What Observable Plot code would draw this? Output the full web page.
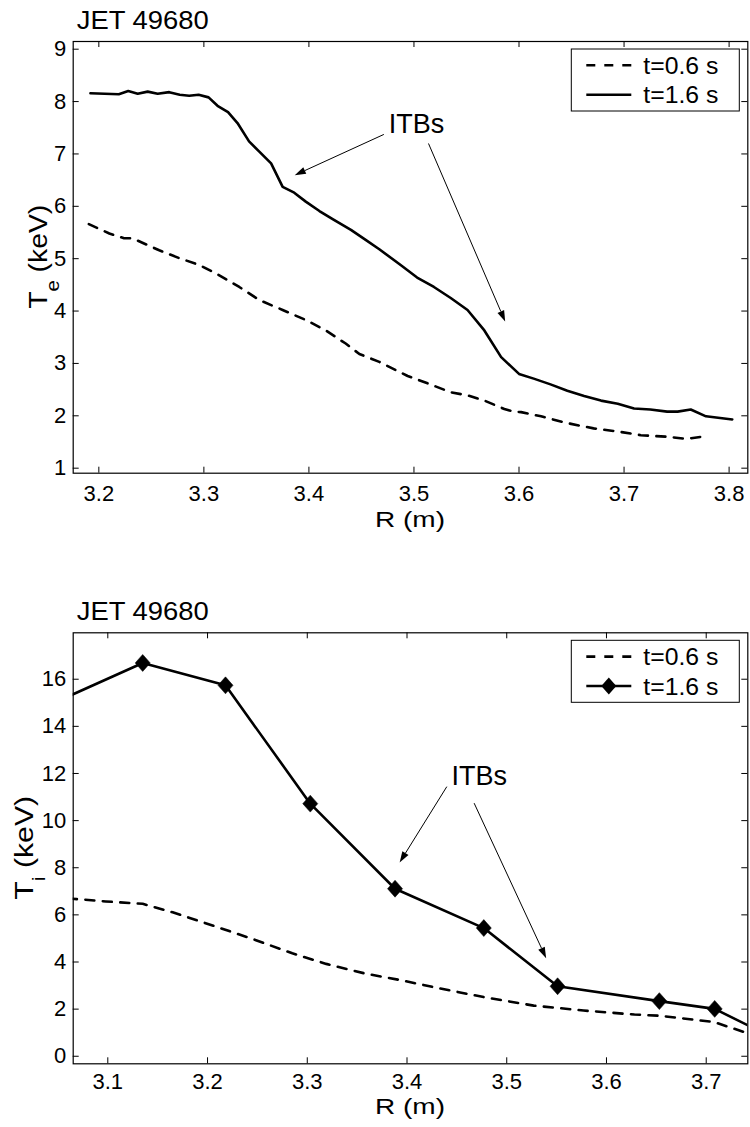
<!DOCTYPE html>
<html><head><meta charset="utf-8">
<script src="https://cdn.jsdelivr.net/npm/d3@7"></script>
<script src="https://cdn.jsdelivr.net/npm/@observablehq/plot@0.6"></script>
<style>
body{margin:0;background:#fff;}
#wrap{position:relative;width:750px;height:1127px;}
#wrap svg{position:absolute;left:0;}
</style></head><body><div id="wrap"></div>
<script>
const FONT = '"Liberation Sans", Arial, Helvetica, sans-serif';

// ---------- Top panel: electron temperature ----------
const teTitle = "JET 49680";
const teR06 = [3.1905,3.210,3.224,3.232,3.2575,3.2766,3.2956,3.3114,3.3337,3.3528,3.375,3.397,3.416,3.435,3.448,3.467,3.494,3.513,3.535,3.551,3.567,3.586,3.595,3.602,3.621,3.646,3.671,3.694,3.716,3.741,3.759,3.778];
const teV06 = [5.66,5.48,5.39,5.39,5.16,5.01,4.88,4.72,4.46,4.21,4.02,3.83,3.63,3.38,3.18,3.03,2.76,2.62,2.45,2.39,2.29,2.13,2.08,2.07,1.99,1.86,1.76,1.70,1.63,1.60,1.56,1.61];
const teR16 = [3.192,3.219,3.228,3.237,3.2465,3.256,3.267,3.277,3.286,3.295,3.3045,3.313,3.323,3.332,3.343,3.353,3.364,3.375,3.386,3.397,3.41,3.423,3.44,3.454,3.467,3.4873,3.503,3.519,3.535,3.551,3.567,3.583,3.600,3.614,3.630,3.646,3.662,3.678,3.694,3.7095,3.725,3.741,3.751,3.7635,3.778,3.803];
const teV16 = [8.16,8.14,8.20,8.15,8.19,8.15,8.18,8.13,8.11,8.13,8.08,7.92,7.80,7.59,7.24,7.04,6.82,6.37,6.26,6.09,5.91,5.75,5.55,5.36,5.18,4.88,4.64,4.46,4.25,4.02,3.63,3.12,2.80,2.71,2.60,2.48,2.38,2.29,2.23,2.14,2.12,2.08,2.08,2.12,1.99,1.93];
const teXTicks = [3.2,3.3,3.4,3.5,3.6,3.7,3.8];
const teYTicks = [1,2,3,4,5,6,7,8,9];
const teXDomain = [3.1756, 3.8178];
const teYDomain = [0.904, 9.147];
const teNote = ["ITBs"];
const teNoteR = [3.476], teNoteV = [7.574];
const teArrowR1 = [3.4718, 3.5143], teArrowV1 = [7.363, 7.19];
const teArrowR2 = [3.387, 3.5873],  teArrowV2 = [6.585, 3.79];

// ---------- Bottom panel: ion temperature ----------
const tiTitle = "JET 49680";
const tiR06 = [3.06,3.098,3.135,3.165,3.205,3.245,3.285,3.319,3.359,3.395,3.427,3.477,3.527,3.577,3.628,3.653,3.708,3.745];
const tiV06 = [6.70,6.57,6.47,6.11,5.55,4.98,4.37,3.92,3.50,3.22,2.93,2.51,2.15,1.94,1.77,1.72,1.45,0.93];
const tiR16 = [3.04,3.135,3.218,3.303,3.388,3.477,3.551,3.653,3.7085,3.76];
const tiV16 = [14.88,16.69,15.74,10.72,7.11,5.44,2.97,2.34,2.01,0.93];
const tiXTicks = [3.1,3.2,3.3,3.4,3.5,3.6,3.7];
const tiYTicks = [0,2,4,6,8,10,12,14,16];
const tiXDomain = [3.0653, 3.7417];
const tiYDomain = [-0.32, 17.97];
const tiNote = ["ITBs"];
const tiNoteR = [3.4445], tiNoteV = [11.88];
const tiArrowR1 = [3.4404, 3.4678], tiArrowV1 = [11.42, 10.72];
const tiArrowR2 = [3.3931, 3.540],  tiArrowV2 = [8.20, 4.14];

const legendLabels = ["t=0.6 s", "t=1.6 s"];
const xLabel = "R (m)";
const DASH = "9,8.5";

const diamond = {draw(ctx, size) {
  const r = Math.sqrt(size / Math.PI);
  ctx.moveTo(0, -r * 1.06); ctx.lineTo(r * 0.94, 0); ctx.lineTo(0, r * 1.06); ctx.lineTo(-r * 0.94, 0); ctx.closePath();
}};

function arrowsMark(r1, v1, r2, v2) {
  return (index, scales) => {
    const g = d3.create("svg:g");
    for (let i = 0; i < r1.length; i++) {
      const ax = scales.x(r1[i]), ay = scales.y(v1[i]), bx = scales.x(r2[i]), by = scales.y(v2[i]);
      const a = Math.atan2(by - ay, bx - ax), L = 11, W = 3.6;
      const cx = bx - L * Math.cos(a), cy = by - L * Math.sin(a);
      g.append("line").attr("x1", ax).attr("y1", ay).attr("x2", cx).attr("y2", cy)
        .attr("stroke", "black").attr("stroke-width", 1);
      g.append("path").attr("fill", "black")
        .attr("d", `M${bx},${by}L${cx - W * Math.sin(a)},${cy + W * Math.cos(a)}L${cx + W * Math.sin(a)},${cy - W * Math.cos(a)}Z`);
    }
    return g.node();
  };
}

function legendMark(withDiamond) {
  return (index, scales, values, dim) => {
    const right = dim.width - dim.marginRight, top = dim.marginTop;
    const bw = 168, bh = 62, bx = right - 8 - bw, by = top + 8;
    const g = d3.create("svg:g");
    g.append("rect").attr("x", bx).attr("y", by).attr("width", bw).attr("height", bh)
      .attr("fill", "white").attr("stroke", "black").attr("stroke-width", 1);
    const rows = [16.3, 45.7];
    rows.forEach((ry, i) => {
      const y = by + ry;
      const ln = g.append("line").attr("x1", bx + 15).attr("x2", bx + 60).attr("y1", y).attr("y2", y)
        .attr("stroke", "black").attr("stroke-width", 2.6);
      if (i === 0) ln.attr("stroke-dasharray", "9,9");
      if (i === 1 && withDiamond) {
        const cx = bx + 37.5;
        g.append("path").attr("fill", "black").attr("d", `M${cx},${y - 8.5}L${cx + 7.5},${y}L${cx},${y + 8.5}L${cx - 7.5},${y}Z`);
      }
      g.append("text").attr("x", bx + 72).attr("y", y + 8.6).attr("font-size", 24)
        .attr("text-anchor", "start").attr("textLength", 75).attr("lengthAdjust", "spacingAndGlyphs")
        .attr("font-family", FONT).attr("fill", "black").text(legendLabels[i]);
    });
    return g.node();
  };
}

function decorMark(title, sym, sub, ylabX, xlabOff) {
  return (index, scales, values, dim) => {
    const g = d3.create("svg:g").attr("font-family", FONT).attr("fill", "black");
    const fl = dim.marginLeft, fr = dim.width - dim.marginRight, ft = dim.marginTop, fb = dim.height - dim.marginBottom;
    g.append("text").attr("x", fl + 4).attr("y", ft - 12.5).attr("font-size", 25)
      .attr("text-anchor", "start").attr("textLength", 132).attr("lengthAdjust", "spacingAndGlyphs").text(title);
    g.append("text").attr("x", (fl + fr) / 2).attr("y", fb + xlabOff).attr("font-size", 22)
      .attr("text-anchor", "middle").attr("textLength", 70).attr("lengthAdjust", "spacingAndGlyphs").text(xLabel);
    const t = g.append("text").attr("transform", `translate(${ylabX},${(ft + fb) / 2}) rotate(-90)`)
      .attr("text-anchor", "middle").attr("font-size", 25)
      .attr("textLength", 104).attr("lengthAdjust", "spacingAndGlyphs");
    t.append("tspan").text(sym);
    t.append("tspan").attr("font-size", 18).attr("dy", 12).text(sub);
    t.append("tspan").attr("dy", -12).text(" (keV)");
    return g.node();
  };
}

function panel(o) {
  const fw = o.width - o.ml - o.mr, fh = o.height - o.mt - o.mb;
  return Plot.plot({
    width: o.width, height: o.height,
    marginLeft: o.ml, marginRight: o.mr, marginTop: o.mt, marginBottom: o.mb,
    x: {domain: o.xDomain}, y: {domain: o.yDomain},
    style: {fontFamily: FONT, fontSize: "22px", color: "black", background: "white", overflow: "visible"},
    marks: [
      Plot.line(o.r06.map((r, i) => [r, o.v06[i]]), {x: "0", y: "1", stroke: "black", strokeWidth: 2.6, strokeDasharray: DASH, clip: true}),
      Plot.line(o.r16.map((r, i) => [r, o.v16[i]]), {x: "0", y: "1", stroke: "black", strokeWidth: 2.6, clip: true}),
      o.diamonds ? Plot.dot(o.r16.map((r, i) => [r, o.v16[i]]), {x: "0", y: "1", symbol: diamond, r: 8, fill: "black", stroke: "black", strokeWidth: 0.5, clip: true}) : null,
      Plot.tickX(o.xTicks, {x: d => d, insetTop: fh - 6, stroke: "black"}),
      Plot.tickX(o.xTicks, {x: d => d, insetBottom: fh - 6, stroke: "black"}),
      Plot.tickY(o.yTicks, {y: d => d, insetRight: fw - 6, stroke: "black"}),
      Plot.tickY(o.yTicks, {y: d => d, insetLeft: fw - 6, stroke: "black"}),
      Plot.axisX(o.xTicks, {anchor: "bottom", tickSize: 0, tickPadding: o.xPad, tickFormat: d => d.toFixed(1), label: null, fontSize: 22}),
      Plot.axisY(o.yTicks, {anchor: "left", tickSize: 0, tickPadding: 7, tickFormat: d => String(d), label: null, fontSize: 22}),
      Plot.frame({stroke: "black", strokeWidth: 1.2}),
      Plot.text(o.note, {x: o.noteR, y: o.noteV, text: d => d, textAnchor: "start", fontSize: 27, fill: "black"}),
      arrowsMark(o.a1r, o.a1v, o.a2r, o.a2v),
      legendMark(o.diamonds),
      decorMark(o.title, "T", o.sub, o.ylabX, o.xlabOff)
    ]
  });
}

const wrap = document.getElementById("wrap");
const top1 = panel({
  width: 750, height: 560, ml: 72.7, mr: 2.7, mt: 41, mb: 87.3,
  xDomain: teXDomain, yDomain: teYDomain, xTicks: teXTicks, yTicks: teYTicks,
  r06: teR06, v06: teV06, r16: teR16, v16: teV16, diamonds: false,
  note: teNote, noteR: teNoteR, noteV: teNoteV,
  a1r: teArrowR1, a1v: teArrowV1, a2r: teArrowR2, a2v: teArrowV2,
  title: teTitle, sub: "e", ylabX: 47, xlabOff: 54, xPad: 12
});
top1.style.top = "0px";
const bot = panel({
  width: 750, height: 567, ml: 72.7, mr: 2.7, mt: 72.3, mb: 63.7,
  xDomain: tiXDomain, yDomain: tiYDomain, xTicks: tiXTicks, yTicks: tiYTicks,
  r06: tiR06, v06: tiV06, r16: tiR16, v16: tiV16, diamonds: true,
  note: tiNote, noteR: tiNoteR, noteV: tiNoteV,
  a1r: tiArrowR1, a1v: tiArrowV1, a2r: tiArrowR2, a2v: tiArrowV2,
  title: tiTitle, sub: "i", ylabX: 33, xlabOff: 51, xPad: 10
});
bot.style.top = "560px";
wrap.appendChild(top1);
wrap.appendChild(bot);
</script>
</body></html>
